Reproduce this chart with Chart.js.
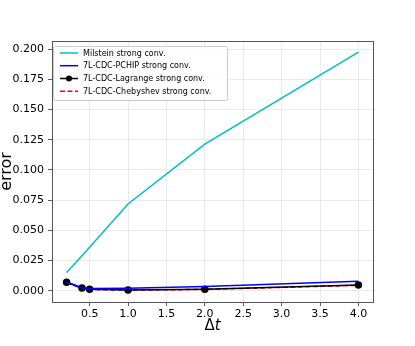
<!DOCTYPE html>
<html><head><meta charset="utf-8">
<script src="https://cdn.jsdelivr.net/npm/chart.js@4/dist/chart.umd.min.js"></script>
<style>html,body{margin:0;padding:0;background:#fff}#wrap{width:415px;height:346px}</style>
</head><body><div id="wrap"><canvas id="c" width="415" height="346"></canvas></div>
<script>
const dt = [0.2, 0.4, 0.5, 1.0, 2.0, 4.0];
const milstein = [0.0152, 0.029, 0.036, 0.0718, 0.1214, 0.1975];
const pchip = [0.0072, 0.0025, 0.0018, 0.0020, 0.0035, 0.0078];
const lagrange = [0.0070, 0.0022, 0.0012, 0.0007, 0.0013, 0.0048];
const chebyshev = [0.0068, 0.0020, 0.0010, 0.0005, 0.0011, 0.0045];
const labels = ['Milstein strong conv.', '7L-CDC-PCHIP strong conv.', '7L-CDC-Lagrange strong conv.', '7L-CDC-Chebyshev strong conv.'];
const xTicks = [0.5, 1.0, 1.5, 2.0, 2.5, 3.0, 3.5, 4.0];
const yTicks = [0, 0.025, 0.05, 0.075, 0.1, 0.125, 0.15, 0.175, 0.2];
const xTitle = ['Δ', 't'];
const yTitle = 'error';

const pts = arr => dt.map((x, i) => ({x: x, y: arr[i]}));
const FONT = "'DejaVu Sans', sans-serif";

const extras = {
  id: 'extras',
  afterDraw(chart) {
    const ctx = chart.ctx, a = chart.chartArea;
    ctx.save();
    // frame
    ctx.strokeStyle = '#555'; ctx.lineWidth = 1;
    ctx.strokeRect(Math.round(a.left) + 0.5, Math.round(a.top) + 0.5, Math.round(a.right - a.left), Math.round(a.bottom - a.top));
    // axis titles
    ctx.fillStyle = '#000';
    ctx.textBaseline = 'middle';
    ctx.font = '15px ' + FONT;
    const w1 = ctx.measureText(xTitle[0]).width;
    ctx.font = 'italic 15px ' + FONT;
    const w2 = ctx.measureText(xTitle[1]).width;
    const cx = (a.left + a.right) / 2 - (w1 + w2) / 2;
    ctx.textAlign = 'left';
    ctx.font = '15px ' + FONT;
    ctx.fillText(xTitle[0], cx, 326);
    ctx.font = 'italic 15px ' + FONT;
    ctx.fillText(xTitle[1], cx + w1, 326);
    ctx.save();
    ctx.translate(7, (a.top + a.bottom) / 2);
    ctx.rotate(-Math.PI / 2);
    ctx.textAlign = 'center';
    ctx.font = '16px ' + FONT;
    ctx.fillText(yTitle, 0, 0);
    ctx.restore();
    // legend
    const lx = 53, ly = 46, lw = 174, lh = 54;
    ctx.beginPath();
    if (ctx.roundRect) ctx.roundRect(lx + 0.5, ly + 0.5, lw, lh, 2); else ctx.rect(lx + 0.5, ly + 0.5, lw, lh);
    ctx.fillStyle = 'rgba(255,255,255,0.85)';
    ctx.fill();
    ctx.strokeStyle = '#cccccc'; ctx.lineWidth = 1;
    ctx.stroke();
    const rows = [53, 65.7, 78.5, 91.2];
    chart.data.datasets.forEach((ds, i) => {
      const y = rows[i];
      ctx.beginPath();
      ctx.setLineDash(ds.borderDash || []);
      ctx.strokeStyle = ds.borderColor; ctx.lineWidth = ds.borderWidth;
      ctx.moveTo(60, y); ctx.lineTo(78, y); ctx.stroke();
      ctx.setLineDash([]);
      if (ds.pointRadius > 0) {
        ctx.beginPath(); ctx.arc(69, y, ds.pointRadius, 0, Math.PI * 2);
        ctx.fillStyle = ds.pointBackgroundColor; ctx.fill();
      }
      ctx.fillStyle = '#000';
      ctx.font = '8px ' + FONT;
      ctx.textAlign = 'left'; ctx.textBaseline = 'middle';
      ctx.fillText(ds.label, 83, y + 0.5);
    });
    ctx.restore();
  }
};

new Chart(document.getElementById('c'), {
  type: 'line',
  data: {
    datasets: [
      {label: labels[0], data: pts(milstein), borderColor: '#00bfbf', backgroundColor: '#00bfbf', borderWidth: 1.5, pointRadius: 0, tension: 0},
      {label: labels[1], data: pts(pchip), borderColor: '#0000ff', backgroundColor: '#0000ff', borderWidth: 1.5, pointRadius: 0, tension: 0},
      {label: labels[2], data: pts(lagrange), borderColor: '#000000', backgroundColor: '#000000', pointBackgroundColor: '#000000', pointBorderColor: '#000000', borderWidth: 1.5, pointRadius: 3, tension: 0},
      {label: labels[3], data: pts(chebyshev), borderColor: '#ff0000', backgroundColor: '#ff0000', borderWidth: 1.5, borderDash: [5, 2.5], pointRadius: 0, tension: 0}
    ]
  },
  options: {
    responsive: false,
    animation: false,
    devicePixelRatio: 1,
    layout: {padding: {top: 41, right: 42, left: 0, bottom: 0}},
    plugins: {legend: {display: false}, tooltip: {enabled: false}},
    scales: {
      x: {
        type: 'linear', min: 0.01, max: 4.19,
        afterFit: s => { s.height = 44; },
        afterBuildTicks: s => { s.ticks = xTicks.map(v => ({value: v})); },
        grid: {color: '#e6e6e6', lineWidth: 0.8, tickLength: 4, tickColor: '#333', drawOnChartArea: true},
        border: {display: false},
        ticks: {color: '#000', font: {family: FONT, size: 11}, padding: 2, maxRotation: 0, callback: v => Number(v).toFixed(1)}
      },
      y: {
        type: 'linear', min: -0.0093, max: 0.2067,
        afterFit: s => { s.width = 52; },
        afterBuildTicks: s => { s.ticks = yTicks.map(v => ({value: v})); },
        grid: {color: '#e6e6e6', lineWidth: 0.8, tickLength: 4, tickColor: '#333'},
        border: {display: false},
        ticks: {color: '#000', font: {family: FONT, size: 11}, padding: 4, callback: v => Number(v).toFixed(3)}
      }
    }
  },
  plugins: [extras]
});
</script>
</body></html>
